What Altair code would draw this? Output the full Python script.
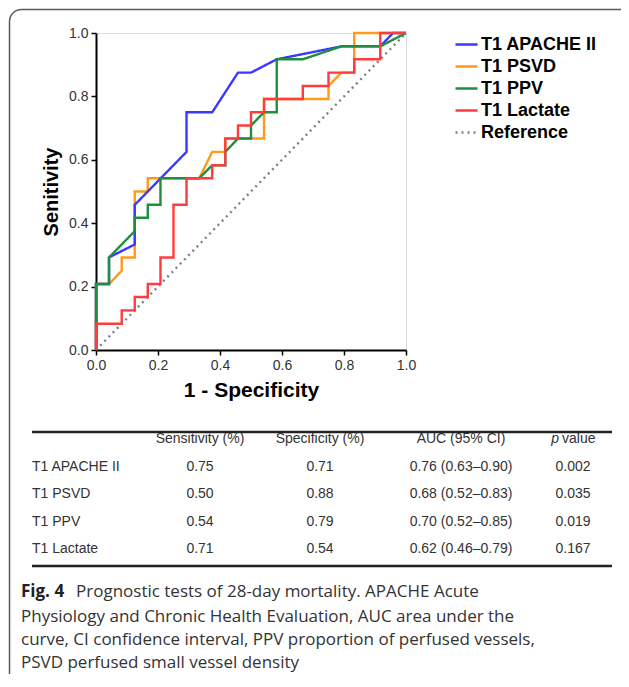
import altair as alt
import pandas as pd

# ---------------- data ----------------
series_names = ["T1 APACHE II", "T1 PSVD", "T1 PPV", "T1 Lactate", "Reference"]
series_colors = ["#3a3aff", "#ff9a1a", "#1f8f3f", "#ff3b3b", "#7f7f7f"]
series_dash = [[1, 0], [1, 0], [1, 0], [1, 0], [2, 4]]

apache_fpr = [0, 0, 0.042, 0.042, 0.125, 0.125, 0.292, 0.292, 0.375, 0.458, 0.5, 0.583, 0.792, 0.917, 0.958, 1.0]
apache_tpr = [0, 0.208, 0.208, 0.292, 0.333, 0.458, 0.625, 0.75, 0.75, 0.875, 0.875, 0.917, 0.958, 0.958, 1.0, 1.0]

psvd_fpr = [0, 0, 0.042, 0.083, 0.083, 0.125, 0.125, 0.167, 0.167, 0.333, 0.375, 0.417, 0.417, 0.542, 0.542,
            0.75, 0.75, 0.792, 0.833, 0.833, 1.0]
psvd_tpr = [0, 0.208, 0.208, 0.25, 0.292, 0.292, 0.5, 0.5, 0.542, 0.542, 0.625, 0.625, 0.667, 0.667, 0.792,
            0.792, 0.833, 0.875, 0.875, 1.0, 1.0]

ppv_fpr = [0, 0, 0.042, 0.042, 0.083, 0.125, 0.125, 0.167, 0.167, 0.208, 0.208, 0.333, 0.375, 0.417, 0.417,
           0.458, 0.5, 0.5, 0.542, 0.583, 0.583, 0.667, 0.792, 0.917, 1.0]
ppv_tpr = [0, 0.208, 0.208, 0.292, 0.333, 0.375, 0.417, 0.417, 0.458, 0.458, 0.542, 0.542, 0.583, 0.583, 0.625,
           0.667, 0.667, 0.708, 0.75, 0.75, 0.917, 0.917, 0.958, 0.958, 1.0]

lactate_fpr = [0, 0, 0.083, 0.083, 0.125, 0.125, 0.167, 0.167, 0.208, 0.208, 0.25, 0.25, 0.292, 0.292, 0.375,
               0.375, 0.417, 0.417, 0.458, 0.458, 0.5, 0.5, 0.542, 0.542, 0.667, 0.667, 0.75, 0.75, 0.833,
               0.833, 0.917, 0.917, 1.0]
lactate_tpr = [0, 0.083, 0.083, 0.125, 0.125, 0.167, 0.167, 0.208, 0.208, 0.292, 0.292, 0.458, 0.458, 0.542,
               0.542, 0.583, 0.583, 0.667, 0.667, 0.708, 0.708, 0.75, 0.75, 0.792, 0.792, 0.833, 0.833, 0.875,
               0.875, 0.917, 0.917, 1.0, 1.0]

reference_fpr = [0, 1]
reference_tpr = [0, 1]

axis_ticks = [0.0, 0.2, 0.4, 0.6, 0.8, 1.0]

table_header = ["Sensitivity (%)", "Specificity (%)", "AUC (95% CI)"]
table_rows = ["T1 APACHE II", "T1 PSVD", "T1 PPV", "T1 Lactate"]
table_sens = ["0.75", "0.50", "0.54", "0.71"]
table_spec = ["0.71", "0.88", "0.79", "0.54"]
table_auc = ["0.76 (0.63–0.90)", "0.68 (0.52–0.83)", "0.70 (0.52–0.85)", "0.62 (0.46–0.79)"]
table_p = ["0.002", "0.035", "0.019", "0.167"]

caption_bold = "Fig. 4"
caption_lines = [
    "Prognostic tests of 28-day mortality. APACHE Acute",
    "Physiology and Chronic Health Evaluation, AUC area under the",
    "curve, CI confidence interval, PPV proportion of perfused vessels,",
    "PSVD perfused small vessel density",
]

# ---------------- frames ----------------
def frame(name, fpr, tpr):
    return pd.DataFrame({"series": name, "fpr": fpr, "tpr": tpr, "idx": list(range(len(fpr)))})

df_apache = frame("T1 APACHE II", apache_fpr, apache_tpr)
df_psvd = frame("T1 PSVD", psvd_fpr, psvd_tpr)
df_ppv = frame("T1 PPV", ppv_fpr, ppv_tpr)
df_lact = frame("T1 Lactate", lactate_fpr, lactate_tpr)
df_ref = frame("Reference", reference_fpr, reference_tpr)

FONT = "Liberation Sans"

x_enc = alt.X("fpr:Q", scale=alt.Scale(domain=[0, 1], nice=False, zero=False),
              axis=alt.Axis(values=axis_ticks, format=".1f", title="1 - Specificity", grid=False,
                            labelFont=FONT, labelFontSize=14, labelColor="#333333", labelPadding=3,
                            tickSize=5, tickColor="black", tickWidth=1.5,
                            domainColor="black", domainWidth=2,
                            titleFont=FONT, titleFontSize=21, titleFontWeight="bold", titleColor="black",
                            titlePadding=7, labelFlush=False))
y_enc = alt.Y("tpr:Q", scale=alt.Scale(domain=[0, 1], nice=False, zero=False),
              axis=alt.Axis(values=axis_ticks, format=".1f", title="Senitivity", grid=False,
                            labelFont=FONT, labelFontSize=14, labelColor="#333333", labelPadding=3,
                            tickSize=5, tickColor="black", tickWidth=1.5,
                            domainColor="black", domainWidth=2,
                            titleFont=FONT, titleFontSize=20, titleFontWeight="bold", titleColor="black",
                            titlePadding=7, labelFlush=False))
legend_cfg = dict(title=None, orient="none", legendX=358, legendY=-1,
                  symbolType="stroke", symbolSize=484, symbolStrokeWidth=2.5,
                  labelFont=FONT, labelFontSize=18, labelFontWeight="bold",
                  labelColor="black", rowPadding=0, labelOffset=2)
color_enc = alt.Color("series:N", scale=alt.Scale(domain=series_names, range=series_colors),
                      legend=alt.Legend(**legend_cfg))
dash_enc = alt.StrokeDash("series:N", scale=alt.Scale(domain=series_names, range=series_dash),
                          legend=alt.Legend(**legend_cfg))


def roc_layer(df):
    return alt.Chart(df).mark_line(strokeWidth=2.4, clip=False).encode(
        x=x_enc, y=y_enc, color=color_enc, strokeDash=dash_enc, order=alt.Order("idx:Q"))


one = pd.DataFrame({"k": [0]})
border = alt.Chart(one).mark_rect(filled=False, stroke="#5a5a5a", strokeWidth=1.5, cornerRadius=12).encode(
    x=alt.value(-86.5), x2=alt.value(560), y=alt.value(-23.5), y2=alt.value(700))

roc = alt.layer(roc_layer(df_ref), roc_layer(df_psvd), roc_layer(df_apache),
                roc_layer(df_ppv), roc_layer(df_lact))

# ---------------- table ----------------
row_domain = ["header"] + table_rows
ty = alt.Y("row:N", scale=alt.Scale(type="point", domain=row_domain, range=[406, 516], padding=0), axis=None)
tfont = dict(font=FONT, fontSize=14, color="#333333", baseline="middle")

df_label = pd.DataFrame({"row": table_rows, "text": table_rows})
col_frames = []
for xpos, head, vals in [(104, table_header[0], table_sens), (224, table_header[1], table_spec),
                         (365, table_header[2], table_auc), (477, None, table_p)]:
    rows = (["header"] if head else []) + table_rows
    texts = ([head] if head else []) + vals
    col_frames.append((xpos, pd.DataFrame({"row": rows, "text": texts})))

table_layers = [alt.Chart(df_label).mark_text(align="left", **tfont).encode(
    x=alt.value(-64), y=ty, text="text:N")]
for xpos, dfc in col_frames:
    table_layers.append(alt.Chart(dfc).mark_text(align="center", **tfont).encode(
        x=alt.value(xpos), y=ty, text="text:N"))
df_ph = pd.DataFrame({"row": ["header"], "text": ["p"]})
df_vh = pd.DataFrame({"row": ["header"], "text": ["value"]})
table_layers.append(alt.Chart(df_ph).mark_text(align="right", fontStyle="italic", **tfont).encode(
    x=alt.value(463), y=ty, text="text:N"))
table_layers.append(alt.Chart(df_vh).mark_text(align="left", **tfont).encode(
    x=alt.value(466), y=ty, text="text:N"))
table = alt.layer(*table_layers)

rules = [
    alt.Chart(one).mark_rule(color="#222222", strokeWidth=2.5).encode(
        x=alt.value(-64), x2=alt.value(516), y=alt.value(399)),
    alt.Chart(one).mark_rule(color="#222222", strokeWidth=2.5).encode(
        x=alt.value(-64), x2=alt.value(516), y=alt.value(533)),
]

# ---------------- caption ----------------
CFONT = "Open Sans"
CSIZE = 17
cap_y = [559, 584, 607, 630]
caption = [alt.Chart(one).mark_text(align="left", baseline="middle", font=CFONT, fontSize=CSIZE,
                                    fontWeight="bold", color="#222222").encode(
    x=alt.value(-75), y=alt.value(cap_y[0]), text=alt.value(caption_bold))]
caption.append(alt.Chart(one).mark_text(align="left", baseline="middle", font=CFONT, fontSize=CSIZE,
                                        color="#333333").encode(
    x=alt.value(-20), y=alt.value(cap_y[0]), text=alt.value(caption_lines[0])))
for yy, line in zip(cap_y[1:], caption_lines[1:]):
    caption.append(alt.Chart(one).mark_text(align="left", baseline="middle", font=CFONT, fontSize=CSIZE,
                                            color="#333333").encode(
        x=alt.value(-75), y=alt.value(yy), text=alt.value(line)))

chart = alt.layer(border, roc, table, *rules, *caption).resolve_scale(
    y="independent"
).properties(
    width=310, height=317,
    autosize=alt.AutoSizeParams(type="none"),
    padding={"left": 88, "top": 25, "right": 215, "bottom": 324},
).configure_view(stroke="black", strokeWidth=2).configure(background="white")

chart.save("out.html", embed_options={"renderer": "svg", "actions": False})
